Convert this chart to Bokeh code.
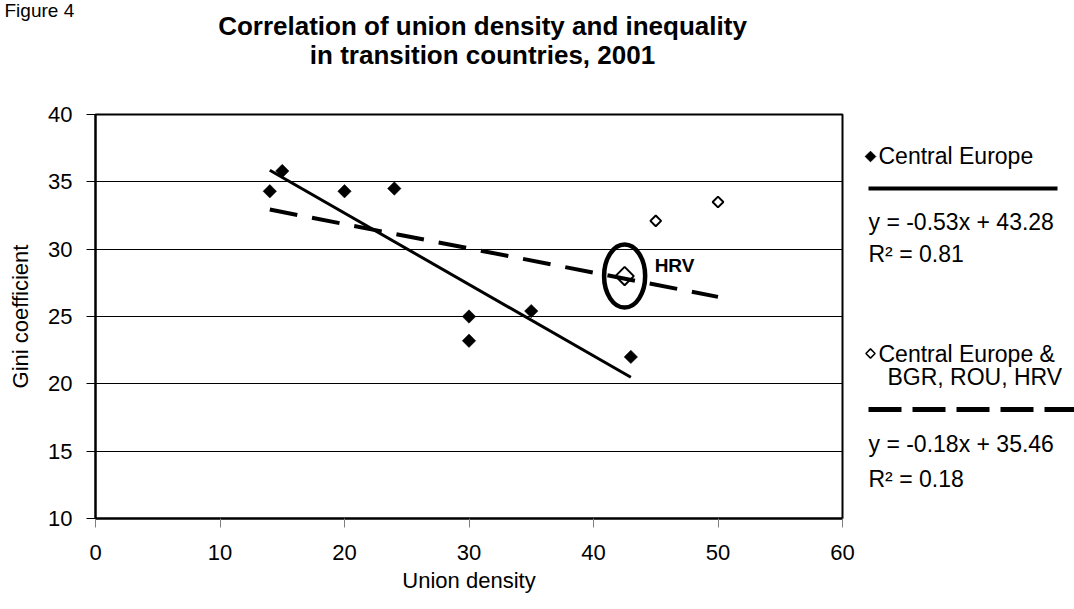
import numpy as np
from bokeh.plotting import figure
from bokeh.layouts import column, row
from bokeh.models import Range1d, FixedTicker, Label
from bokeh.embed import file_html
from bokeh.resources import INLINE

# ---------------- data ----------------
ce_x = [14, 15, 20, 24, 30, 30, 35, 43]            # Central Europe
ce_y = [34.3, 35.8, 34.3, 34.5, 25.0, 23.2, 25.4, 22.0]
ext_x = [45, 50]                                    # BGR, ROU
ext_y = [32.1, 33.5]
hrv_x = [42.5]                                      # HRV
hrv_y = [28.0]
ce_slope, ce_intercept, ce_r2 = -0.53, 43.28, 0.81
all_slope, all_intercept, all_r2 = -0.18, 35.46, 0.18
x_ticks = [0, 10, 20, 30, 40, 50, 60]
y_ticks = [10, 15, 20, 25, 30, 35, 40]

FONT = "Liberation Sans"


def bare(fig):
    fig.grid.visible = False
    fig.outline_line_color = None
    fig.background_fill_color = "white"
    fig.border_fill_color = "white"


# ---------------- title strip (page coords, y = -page_y) ----------------
t = figure(width=1074, height=98, x_range=Range1d(0, 1074), y_range=Range1d(-98, 0),
           output_backend="svg", toolbar_location=None, title=None,
           x_axis_location=None, y_axis_location=None, min_border=0,
           min_border_left=0, min_border_right=0, min_border_top=0, min_border_bottom=0)
bare(t)
t.add_layout(Label(x=4, y=-10, text="Figure 4", text_font=FONT, text_font_size="19px",
                   text_color="black", text_baseline="alphabetic", text_align="left"))
t.add_layout(Label(x=482, y=-25, text="Correlation of union density and inequality",
                   text_font=FONT, text_font_size="26px", text_font_style="bold",
                   text_color="black", text_align="center", text_baseline="alphabetic"))
t.add_layout(Label(x=482, y=-54, text="in transition countries, 2001",
                   text_font=FONT, text_font_size="26px", text_font_style="bold",
                   text_color="black", text_align="center", text_baseline="alphabetic"))

# ---------------- main plot ----------------
p = figure(width=856, height=511, x_range=Range1d(x_ticks[0], x_ticks[-1]),
           y_range=Range1d(y_ticks[0], y_ticks[-1]),
           output_backend="svg", toolbar_location=None, title=None,
           min_border_left=95, min_border_right=14, min_border_top=16, min_border_bottom=91)
p.background_fill_color = "white"
p.border_fill_color = "white"
p.outline_line_color = "black"
p.outline_line_width = 2

p.xaxis.ticker = FixedTicker(ticks=x_ticks)
p.yaxis.ticker = FixedTicker(ticks=y_ticks)
for ax in (p.xaxis, p.yaxis):
    ax.major_label_text_font = FONT
    ax.major_label_text_font_size = "22px"
    ax.major_label_text_color = "black"
    ax.axis_line_color = "black"
    ax.axis_line_width = 2
    ax.major_tick_in = 0
    ax.major_tick_out = 9
    ax.minor_tick_line_color = None
    ax.axis_label_text_font = FONT
    ax.axis_label_text_font_size = "22px"
    ax.axis_label_text_font_style = "normal"
    ax.axis_label_text_color = "black"
p.xaxis.major_tick_line_color = "#808080"
p.yaxis.major_tick_line_color = "black"
p.xaxis.major_label_standoff = 17
p.yaxis.major_label_standoff = 14
p.xaxis.axis_label = "Union density"
p.yaxis.axis_label = "Gini coefficient"
p.xaxis.axis_label_standoff = 5
p.yaxis.axis_label_standoff = 12
p.xgrid.visible = False
p.ygrid.grid_line_color = "black"
p.ygrid.grid_line_width = 1

# trend lines
ce_lx = np.array([min(ce_x), max(ce_x)], dtype=float)
p.line(ce_lx, ce_slope * ce_lx + ce_intercept, line_color="black", line_width=3)
all_xs = ce_x + ext_x + hrv_x
all_lx = np.array([min(all_xs), max(all_xs)], dtype=float)
p.line(all_lx, all_slope * all_lx + all_intercept, line_color="black", line_width=4,
       line_dash="28 15")

# points
p.scatter(ce_x, ce_y, marker="square", angle=np.pi / 4, size=9.5,
          fill_color="black", line_color="black", line_width=0.5)
p.scatter(ext_x, ext_y, marker="square", angle=np.pi / 4, size=7.6,
          fill_color="white", line_color="black", line_width=2)
p.scatter(hrv_x, hrv_y, marker="square", angle=np.pi / 4, size=13,
          fill_color=None, line_color="black", line_width=2)
p.ellipse(x=hrv_x, y=hrv_y, width=3.3, height=4.68, fill_color=None,
          line_color="black", line_width=4.5)
p.add_layout(Label(x=hrv_x[0], y=hrv_y[0], x_offset=30, y_offset=11, text="HRV",
                   text_font=FONT, text_font_size="19px", text_font_style="bold",
                   text_color="black", text_baseline="alphabetic"))

# ---------------- legend panel (page coords, y = -page_y) ----------------
g = figure(width=218, height=511, x_range=Range1d(856, 1074), y_range=Range1d(-518, -114),
           output_backend="svg", toolbar_location=None, title=None,
           x_axis_location=None, y_axis_location=None, min_border=0,
           min_border_left=0, min_border_right=0, min_border_top=16, min_border_bottom=91)
bare(g)

g.scatter([870], [-156], marker="square", angle=np.pi / 4, size=7.5,
          fill_color="black", line_color="black")
g.line([868, 1057], [-188, -188], line_color="black", line_width=4)
g.scatter([870], [-353], marker="square", angle=np.pi / 4, size=6.5,
          fill_color="white", line_color="black", line_width=1.5)
g.line([868, 1080], [-409, -409], line_color="black", line_width=5, line_dash="33 11")

legend_texts = [
    (878, 155, "Central Europe"),
    (868, 221, f"y = {ce_slope:.2f}x + {ce_intercept:.2f}"),
    (868, 253, f"R\u00b2 = {ce_r2:.2f}"),
    (878, 353, "Central Europe &"),
    (887, 376, "BGR, ROU, HRV"),
    (868, 443, f"y = {all_slope:.2f}x + {all_intercept:.2f}"),
    (868, 478, f"R\u00b2 = {all_r2:.2f}"),
]
for lx, ly, txt in legend_texts:
    g.add_layout(Label(x=lx, y=-ly, text=txt, text_font=FONT, text_font_size="23px",
                       text_color="black", text_baseline="alphabetic", text_align="left"))

layout = column(t, row(p, g, spacing=0), spacing=0)
open("out.html", "w").write(file_html(layout, INLINE))
